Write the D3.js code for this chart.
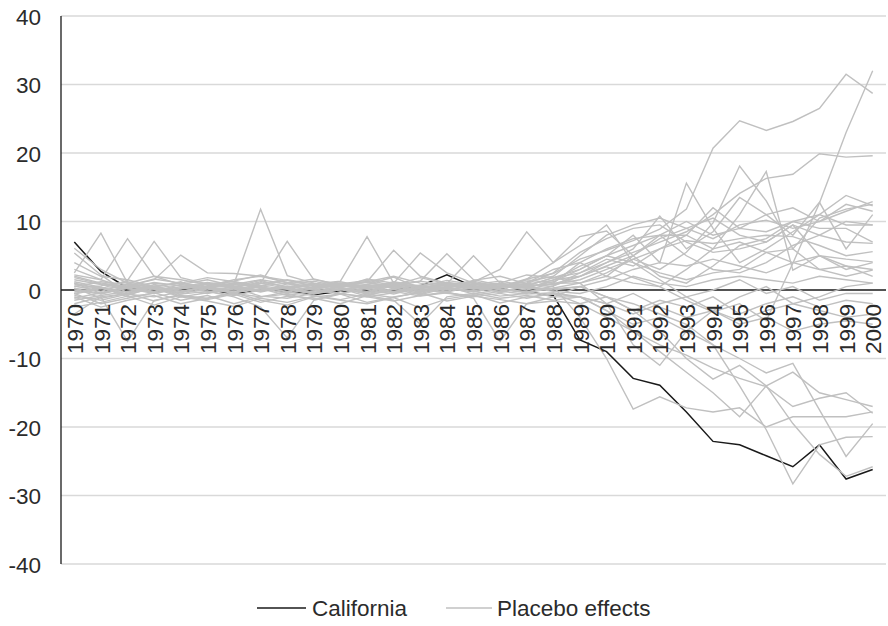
<!DOCTYPE html>
<html>
<head>
<meta charset="utf-8">
<script src="https://cdn.jsdelivr.net/npm/d3@7"></script>
<style>
  html, body { margin: 0; padding: 0; background: #fff; }
  svg { display: block; font-family: "Liberation Sans", Arial, sans-serif; }
</style>
</head>
<body>
<svg id="chart" width="888" height="626"></svg>
<script>
// ---------------- DATA ----------------
const years = d3.range(1970, 2001).map(String);
const yTicks = [-40, -30, -20, -10, 0, 10, 20, 30, 40];
const seriesNames = ["California", "Placebo effects"];

const california = [7.0,2.7,0.3,-0.3,0.1,0.1,-0.6,0.1,-0.2,-0.7,-0.2,-0.1,0.0,0.6,2.2,0.5,0.2,-0.3,-0.8,
  -7.3,-9.0,-12.9,-13.9,-17.8,-22.1,-22.6,-24.2,-25.8,-22.6,-27.6,-26.2];

const placebo01 = [1.5,0.8,0.2,-0.5,0.3,0.9,1.2,0.5,-0.3,0.4,1.0,0.6,-0.2,0.3,0.8,1.1,0.5,1.6,2.4, 4.5,5.8,7.2,8.9,11.8,20.7,24.7,23.3,24.6,26.5,31.5,28.7];
const placebo02 = [-0.8,-1.5,-0.6,0.2,-1.0,-0.4,0.3,-0.9,-1.2,-0.5,0.2,-0.6,-1.1,-0.3,0.4,-0.2,-0.9,-0.5,0.6, 2.0,3.4,1.8,0.5,-1.5,-3.2,-2.0,-4.5,3.9,12.7,23.0,32.0];
const placebo03 = [0.5,1.2,0.8,0.1,-0.4,0.6,1.5,2.0,1.1,0.3,0.9,1.4,0.7,1.8,0.9,0.2,1.0,2.2,1.8, 2.5,4.0,5.5,7.0,8.5,11.0,14.1,16.3,16.9,19.9,19.4,19.6];
const placebo04 = [2.5,8.3,1.0,0.4,1.2,-0.3,0.5,1.0,0.2,-0.5,0.8,0.3,1.2,0.6,-0.2,0.9,0.4,1.5,1.0, 1.0,2.5,4.5,3.0,5.5,9.8,18.1,13.0,6.0,10.5,11.8,12.5];
const placebo05 = [3.0,1.5,7.5,2.0,0.8,1.5,0.6,-0.2,0.9,1.3,0.4,0.8,1.9,0.2,1.1,0.7,-0.4,0.6,1.8, 3.0,5.0,6.5,8.0,8.0,6.0,11.0,17.3,2.9,5.0,3.0,4.0];
const placebo06 = [1.0,0.2,1.4,7.1,1.8,0.9,0.3,1.2,0.5,0.0,-0.6,0.4,0.9,1.3,0.7,0.2,0.8,0.4,1.2, 3.0,5.0,8.0,4.0,15.6,9.0,4.0,6.0,8.5,11.0,9.5,9.5];
const placebo07 = [0.2,-0.5,0.6,1.5,5.1,2.5,2.4,2.0,1.4,0.6,1.0,0.3,0.5,-0.2,0.8,0.1,0.6,1.2,2.0, 5.0,8.0,9.5,10.5,9.0,7.5,9.5,10.2,9.0,10.0,11.5,12.9];
const placebo08 = [-0.5,0.3,-0.8,0.5,-0.2,0.4,0.9,11.8,2.1,1.0,0.2,-0.4,0.6,0.1,-0.3,0.5,0.9,0.2,1.5, 2.0,4.0,6.0,10.8,6.0,8.5,13.5,11.0,8.0,12.8,6.0,11.0];
const placebo09 = [1.8,0.9,0.4,1.0,0.6,0.2,-0.5,1.0,7.1,1.5,0.8,1.2,0.3,0.7,1.1,0.4,-0.2,1.6,4.0, 7.8,8.6,5.0,2.0,1.0,3.5,6.5,7.5,10.0,11.0,13.8,12.3];
const placebo10 = [0.0,-0.6,0.3,-0.4,0.2,0.8,0.4,-0.3,0.5,0.9,1.3,7.8,1.0,0.4,0.9,0.2,0.6,0.0,1.0, 4.0,6.0,7.5,8.0,5.0,3.0,2.5,4.0,6.5,8.0,7.0,6.8];
const placebo11 = [-1.2,-0.4,0.5,0.2,-0.6,0.3,-0.2,0.6,0.1,-0.4,0.5,1.2,5.8,2.0,1.0,0.4,-0.3,0.6,0.8, 1.5,3.0,4.5,6.0,7.2,6.8,7.5,8.0,7.8,6.5,5.0,5.6];
const placebo12 = [0.8,0.2,-0.3,0.6,1.0,0.5,0.0,0.9,1.4,0.6,1.2,0.4,1.0,5.4,2.5,1.0,0.5,0.3,0.2, 0.5,1.5,3.0,4.0,3.5,4.5,3.5,2.5,4.0,5.0,4.5,4.1];
const placebo13 = [2.0,1.0,0.6,1.6,1.0,0.4,0.8,1.5,0.9,0.3,0.7,1.1,0.5,1.3,5.3,1.5,0.7,0.9,1.4, 3.5,5.0,4.0,2.5,1.5,2.5,3.0,5.5,6.0,3.0,2.0,2.9];
const placebo14 = [-1.5,-0.8,-0.2,0.4,0.0,-0.5,0.2,-0.1,0.3,-0.6,0.1,0.5,-0.3,0.2,0.9,5.0,1.0,0.4,-0.2, -0.5,0.5,2.0,1.0,0.5,1.5,2.0,1.5,1.0,2.0,1.5,1.0];
const placebo15 = [0.6,-0.2,0.9,0.3,-0.4,0.6,1.0,0.4,-0.2,0.5,0.0,0.8,0.3,-0.5,0.4,1.2,3.0,8.5,4.0, 6.5,9.5,4.0,1.5,-1.0,0.0,1.5,-0.5,0.5,-1.5,-0.5,-0.5];
const placebo16 = [-2.0,-1.0,-7.5,-1.5,-0.8,-1.2,-0.5,-1.0,-0.3,-0.8,-1.4,-0.6,-0.2,-0.9,-0.4,-1.0,-0.5,-1.2,-0.5, -2.0,-4.0,-6.0,-8.0,-9.5,-11.4,-12.9,-14.1,-17.0,-15.8,-15.0,-18.0];
const placebo17 = [-3.5,-1.0,-0.5,-1.6,-0.6,-0.2,-1.0,-2.5,-7.0,-1.5,-0.6,-1.0,-0.4,0.2,-0.5,-0.8,-0.2,-0.6,-0.4, -1.0,-3.0,-5.0,-4.0,-6.0,-8.0,-10.0,-12.1,-10.7,-17.5,-24.3,-19.5];
const placebo18 = [-0.5,-2.0,-1.2,-0.4,-1.5,-0.8,-2.0,-1.0,-0.6,-1.4,-0.5,-1.0,-1.6,-0.8,-0.3,-1.2,-7.5,-2.0,-1.0, 0.5,-1.0,-2.0,-3.5,-5.0,-8.0,-14.0,-20.4,-28.3,-22.6,-21.5,-21.4];
const placebo19 = [1.2,0.4,-0.6,-1.0,-0.3,0.5,-0.4,0.2,-0.8,-0.2,0.4,-0.5,0.1,-0.7,0.3,-0.1,0.5,0.8,0.5, -4.0,-10.0,-17.4,-15.6,-17.2,-17.8,-17.2,-20.0,-18.5,-18.5,-18.5,-17.8];
const placebo20 = [-2.5,-1.8,-0.9,-2.2,-1.0,-1.6,-2.4,-1.2,-1.8,-0.9,-1.5,-2.0,-1.1,-2.6,-1.3,-0.7,-1.9,-1.0,-0.6, -1.0,-3.0,-6.0,-9.0,-12.0,-15.0,-18.5,-14.0,-19.5,-24.0,-27.2,-25.8];
const placebo21 = [0.3,-1.2,-0.5,0.4,-0.9,-1.4,-0.6,-1.8,-0.9,-1.2,-2.0,-0.8,-1.5,-5.0,-1.0,-0.5,-1.2,-0.8,-1.5, -1.0,-2.0,-0.5,-2.5,-4.0,-3.0,-5.0,-4.0,-6.0,-5.0,-4.5,-5.0];
const placebo22 = [-1.0,-2.5,-1.5,-0.8,-2.0,-1.2,-0.4,-1.5,-2.2,-1.0,-0.6,-1.8,-1.0,-0.4,-1.6,-0.9,-1.4,-2.0,-1.6, -2.0,-1.0,-3.0,-1.5,-2.5,-1.0,-3.5,-2.0,-1.0,-2.5,-1.5,-2.0];
const placebo23 = [4.0,2.0,1.5,0.5,1.0,1.8,1.2,0.6,1.5,0.9,0.4,1.6,1.0,0.5,1.4,0.8,1.3,0.6,1.8, 1.0,-2.0,-8.0,-11.0,-6.0,-3.0,-1.0,0.5,-2.0,-1.0,0.5,1.0];
const placebo24 = [6.1,3.0,1.0,2.0,1.5,0.8,1.3,2.2,1.0,1.6,0.7,1.2,2.0,1.0,0.5,1.4,2.0,0.9,2.5, 5.5,7.5,9.0,9.5,7.0,5.5,6.0,7.0,9.5,8.0,10.0,9.5];
const placebo25 = [5.4,2.2,-0.5,0.8,0.2,1.0,0.4,-0.2,0.6,0.0,0.9,0.3,-0.4,0.7,0.2,-0.3,0.4,1.0,3.0, 4.0,2.0,5.0,7.5,9.0,10.5,8.0,7.0,9.5,5.0,3.5,2.0];
const placebo26 = [0.2,0.6,1.2,0.5,-0.2,0.4,0.9,0.3,-0.5,0.2,0.7,0.1,-0.6,0.4,0.0,0.6,0.2,-0.4,0.3, 1.0,2.0,1.0,0.5,3.0,6.0,7.0,5.5,4.0,3.0,3.5,3.0];
const placebo27 = [-0.3,0.4,-1.0,-0.5,0.3,-0.2,-0.8,0.0,0.4,-0.4,0.2,-0.9,0.3,-0.3,0.5,-0.6,0.1,-0.2,-1.0, -1.0,-2.0,-3.5,-2.0,-1.0,-3.0,-4.5,-3.0,-2.0,-3.0,-4.0,-3.5];
const placebo28 = [1.0,-0.5,0.3,1.1,0.6,0.0,0.5,1.4,0.3,0.8,-0.2,0.6,1.1,0.2,0.7,1.3,0.4,0.6,0.9, 2.0,3.5,5.0,8.0,10.0,8.0,9.0,8.5,10.0,9.0,9.0,7.0];
const placebo29 = [2.2,1.5,0.2,-0.3,0.5,1.1,0.6,0.0,0.4,1.0,0.3,-0.2,0.8,0.4,0.1,0.7,1.0,0.5,0.0, 0.5,-1.0,-3.0,-6.0,-10.0,-13.0,-11.0,-14.0,-12.0,-15.0,-16.0,-17.0];
const placebo30 = [-0.6,0.2,0.5,-0.2,0.8,0.3,-0.4,0.6,1.0,0.2,-0.5,0.3,0.7,-0.1,0.4,0.9,0.0,-0.3,0.6, 2.5,4.5,3.5,6.0,8.0,12.0,9.0,11.0,12.0,10.0,12.5,11.5];

const placeboSeries = [placebo01,placebo02,placebo03,placebo04,placebo05,placebo06,placebo07,placebo08,
  placebo09,placebo10,placebo11,placebo12,placebo13,placebo14,placebo15,placebo16,placebo17,placebo18,
  placebo19,placebo20,placebo21,placebo22,placebo23,placebo24,placebo25,placebo26,placebo27,placebo28,
  placebo29,placebo30];

// ---------------- LAYOUT ----------------
const plotLeft = 61, plotRight = 886, plotTop = 16, plotBottom = 564;
const gray = "#c0c0c0", black = "#1a1a1a", gridColor = "#d9d9d9", textColor = "#2b2b2b";
const fontSize = 22.5;

const svg = d3.select("#chart");

const x = d3.scalePoint().domain(years).range([plotLeft, plotRight]).padding(0.5);
const y = d3.scaleLinear().domain([-40, 40]).range([plotBottom, plotTop]);

// gridlines
svg.append("g")
  .selectAll("line")
  .data(yTicks.filter(t => t !== 0))
  .join("line")
  .attr("x1", plotLeft).attr("x2", plotRight)
  .attr("y1", d => y(d)).attr("y2", d => y(d))
  .attr("stroke", gridColor).attr("stroke-width", 1.3);

// y axis (labels only, no ticks)
const yAxis = d3.axisLeft(y).tickValues(yTicks).tickSize(0).tickPadding(0).tickFormat(d => String(d));
const yg = svg.append("g").attr("transform", `translate(${plotLeft - 20},0)`).call(yAxis);
yg.select(".domain").remove();
yg.selectAll("text")
  .attr("font-size", fontSize)
  .attr("font-family", "Liberation Sans, Arial, sans-serif")
  .attr("fill", textColor)
  .attr("dy", "0.36em");

// zero (category) axis line
svg.append("line")
  .attr("x1", plotLeft).attr("x2", plotRight)
  .attr("y1", y(0)).attr("y2", y(0))
  .attr("stroke", black).attr("stroke-width", 1.3);

// vertical axis line
svg.append("line")
  .attr("x1", plotLeft).attr("x2", plotLeft)
  .attr("y1", plotTop).attr("y2", plotBottom)
  .attr("stroke", black).attr("stroke-width", 1.3);

// lines
const line = d3.line().x((d, i) => x(years[i])).y(d => y(d));

svg.append("path")
  .datum(california)
  .attr("d", line)
  .attr("fill", "none")
  .attr("stroke", black)
  .attr("stroke-width", 1.5);

svg.append("g")
  .selectAll("path")
  .data(placeboSeries)
  .join("path")
  .attr("d", line)
  .attr("fill", "none")
  .attr("stroke", gray)
  .attr("stroke-width", 1.4);

// x category labels (rotated), positioned below zero line
const xAxis = d3.axisBottom(x).tickSize(0).tickPadding(0);
const xg = svg.append("g").attr("transform", `translate(0,${y(0)})`).call(xAxis);
xg.select(".domain").remove();
xg.selectAll("text")
  .attr("font-size", fontSize)
  .attr("font-family", "Liberation Sans, Arial, sans-serif")
  .attr("fill", textColor)
  .attr("text-anchor", "end")
  .attr("transform", "translate(0,14) rotate(-90)")
  .attr("x", 0).attr("y", 0)
  .attr("dy", "0.36em");

// legend
const legendY = 608;
const legendItems = [
  { name: seriesNames[0], color: black, x1: 257, x2: 306, tx: 312 },
  { name: seriesNames[1], color: gray, x1: 446, x2: 492, tx: 497 }
];
const lg = svg.append("g");
lg.selectAll("line")
  .data(legendItems)
  .join("line")
  .attr("x1", d => d.x1).attr("x2", d => d.x2)
  .attr("y1", legendY).attr("y2", legendY)
  .attr("stroke", d => d.color).attr("stroke-width", 1.5);
lg.selectAll("text")
  .data(legendItems)
  .join("text")
  .attr("x", d => d.tx).attr("y", legendY)
  .attr("dy", "0.36em")
  .attr("font-size", fontSize)
  .attr("fill", textColor)
  .text(d => d.name);
</script>
</body>
</html>
